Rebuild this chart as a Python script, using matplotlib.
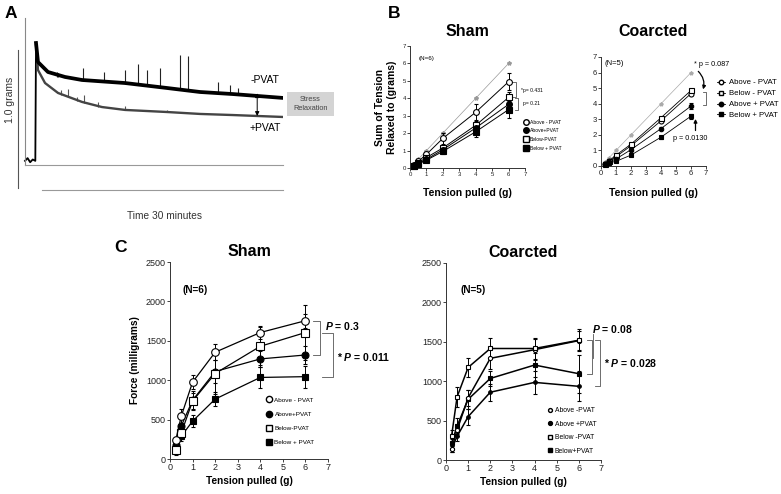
import numpy as np
import matplotlib.pyplot as plt
from matplotlib.lines import Line2D
from matplotlib.patches import Rectangle

plt.rcParams['font.family'] = ['Liberation Sans', 'DejaVu Sans']
plt.rcParams['mathtext.fontset'] = 'custom'
plt.rcParams['mathtext.it'] = 'Liberation Sans:italic:bold'
plt.rcParams['mathtext.rm'] = 'Liberation Sans:bold'

W, H = 781, 494

## Panel A - raw trace (minutes, grams)
base_t = [0.0, 0.3, 0.6, 0.9, 1.2, 1.28]
base_g = [0.03, 0.05, 0.02, 0.04, 0.03, 0.884]
minus_t = [1.28, 1.51, 2.67, 4.65, 6.63, 11.63, 16.51, 20.35, 24.19, 30.0]
minus_g = [0.884, 0.746, 0.674, 0.638, 0.616, 0.594, 0.558, 0.529, 0.514, 0.486]
plus_t = [1.28, 1.51, 2.33, 3.84, 6.63, 8.95, 11.63, 16.51, 20.35, 24.19, 30.0]
plus_g = [0.87, 0.688, 0.594, 0.522, 0.457, 0.420, 0.399, 0.384, 0.370, 0.362, 0.348]
minus_spike_t = [3.7, 3.84, 6.74, 9.2, 11.6, 13.1, 14.2, 15.7, 18.0, 19.0, 22.4, 23.8, 24.8]
minus_spike_top = [0.674, 0.67, 0.703, 0.674, 0.688, 0.73, 0.69, 0.70, 0.80, 0.79, 0.60, 0.58, 0.56]
minus_spike_base = [0.64, 0.64, 0.61, 0.60, 0.59, 0.58, 0.575, 0.565, 0.545, 0.54, 0.52, 0.515, 0.51]
plus_spike_t = [4.2, 5.0, 6.0, 6.9, 8.5, 11.6, 16.5]
plus_spike_top = [0.54, 0.55, 0.49, 0.51, 0.46, 0.43, 0.40]
plus_spike_base = [0.51, 0.49, 0.465, 0.45, 0.42, 0.40, 0.384]
SCALE_BAR_G = 1.0

## Panel B - sum of tension relaxed (grams)
x_pull = [0.25, 0.5, 1, 2, 4, 6]
b_sham_above_minus = [0.15, 0.38, 0.78, 1.7, 3.2, 4.95]
b_sham_above_minus_err = [0.05, 0.1, 0.15, 0.3, 0.45, 0.5]
b_sham_above_plus = [0.1, 0.25, 0.5, 1.05, 2.3, 3.65]
b_sham_above_plus_err = [0.03, 0.05, 0.08, 0.1, 0.2, 0.3]
b_sham_below_minus = [0.12, 0.3, 0.6, 1.15, 2.45, 4.05]
b_sham_below_minus_err = [0.03, 0.05, 0.1, 0.15, 0.25, 0.3]
b_sham_below_plus = [0.1, 0.22, 0.45, 0.95, 2.08, 3.35]
b_sham_below_plus_err = [0.03, 0.05, 0.08, 0.15, 0.3, 0.5]

b_co_above_minus = [0.12, 0.3, 0.6, 1.3, 2.9, 4.65]
b_co_below_minus = [0.15, 0.3, 0.7, 1.4, 3.1, 4.85]
b_co_above_plus = [0.12, 0.25, 0.45, 1.05, 2.4, 3.85]
b_co_above_plus_err = [0.02, 0.03, 0.05, 0.08, 0.1, 0.2]
b_co_below_plus = [0.1, 0.2, 0.3, 0.7, 1.85, 3.2]
b_co_below_plus_err = [0.02, 0.03, 0.05, 0.06, 0.1, 0.15]

## Panel C - force (milligrams)
c_sham_above_minus = [235, 545, 975, 1355, 1605, 1755]
c_sham_above_minus_err = [50, 90, 85, 100, 85, 90]
c_sham_above_plus = [175, 420, 745, 1110, 1270, 1320]
c_sham_above_plus_err = [60, 100, 120, 150, 100, 120]
c_sham_below_minus = [110, 330, 735, 1085, 1430, 1605]
c_sham_below_minus_err = [60, 80, 100, 260, 240, 350]
c_sham_below_plus = [150, 290, 480, 760, 1035, 1045]
c_sham_below_plus_err = [50, 60, 80, 90, 130, 140]

c_co_above_minus = [140, 380, 790, 1290, 1400, 1515]
c_co_above_minus_err = [40, 80, 100, 130, 130, 120]
c_co_below_minus = [300, 800, 1175, 1415, 1415, 1520]
c_co_below_minus_err = [80, 130, 120, 130, 130, 140]
c_co_below_plus = [210, 430, 770, 1035, 1205, 1095]
c_co_below_plus_err = [60, 100, 120, 100, 150, 240]
c_co_above_plus = [140, 300, 550, 860, 985, 935]
c_co_above_plus_err = [40, 60, 100, 110, 150, 190]


def px_rect(x0, y0, x1, y1):
    return [x0 / W, 1 - y1 / H, (x1 - x0) / W, (y1 - y0) / H]


def prism(ax, ymax, ystep, fs):
    ax.set_xlim(0, 7)
    ax.set_ylim(0, ymax)
    ax.spines[['top', 'right']].set_visible(False)
    for s in ['left', 'bottom']:
        ax.spines[s].set_linewidth(0.7)
        ax.spines[s].set_color('#333333')
    ax.set_xticks(range(0, 8))
    ax.set_yticks(np.arange(0, ymax + 1, ystep))
    ax.tick_params(labelsize=fs, length=2, width=0.6, pad=1, colors='#222222')


def series(ax, y, err, marker, filled, ms, lw=0.9, color='k'):
    ax.errorbar(x_pull, y, yerr=err, fmt='-', marker=marker, ms=ms,
                mfc=color if filled else 'white', mec=color, mew=0.8,
                color=color, lw=lw, elinewidth=0.7, capsize=1.5,
                clip_on=False, zorder=3)


def bracket(ax, x, y0, y1, dx, lw=0.6, color='#555555'):
    ax.plot([x - dx, x, x, x - dx], [y0, y0, y1, y1], color=color, lw=lw,
            clip_on=False)


fig = plt.figure(figsize=(W / 100, H / 100), dpi=100)

# ---------------- A
ax = fig.add_axes(px_rect(25, 18, 283, 165))
ax.set_xlim(0, 30)
ax.set_ylim(0, 147 / 138)
ax.set_xticks([])
ax.set_yticks([])
ax.spines[['top', 'right']].set_visible(False)
ax.spines['left'].set_color('#888888')
ax.spines['bottom'].set_color('#999999')
ax.spines['left'].set_linewidth(0.8)
ax.plot(base_t, base_g, color='k', lw=1.3, clip_on=False)
ax.vlines(minus_spike_t, minus_spike_base, minus_spike_top, color='#222222', lw=0.8)
ax.vlines(plus_spike_t, plus_spike_base, plus_spike_top, color='#555555', lw=0.8)
ax.plot(plus_t, plus_g, color='#444444', lw=1.7, solid_joinstyle='round')
ax.plot(minus_t, minus_g, color='k', lw=2.7, solid_joinstyle='round')
ax.plot([-0.81, -0.81], [0.83 - SCALE_BAR_G, 0.83], color='#555555', lw=0.8,
        clip_on=False)
ax.text(-1.75, 0.47, '1.0 grams', rotation=90, ha='center', va='center',
        fontsize=7.5, color='#333333')
ax.plot([1.98, 30], [-0.181, -0.181], color='#999999', lw=0.8, clip_on=False)
ax.text(16.2, -0.37, 'Time 30 minutes', ha='center', va='center', fontsize=7.3,
        color='#333333')
ax.text(27.9, 0.616, '-PVAT', ha='center', va='center', fontsize=7.5)
ax.text(27.9, 0.268, '+PVAT', ha='center', va='center', fontsize=7.5)
ax.annotate('', xy=(27.0, 0.355), xytext=(27.0, 0.52),
            arrowprops=dict(arrowstyle='<|-|>', color='k', lw=0.7,
                            mutation_scale=6, shrinkA=0, shrinkB=0))
ax.add_patch(Rectangle((30.5, 0.355), 5.4, 0.174, facecolor='#d4d4d4',
                       edgecolor='none', clip_on=False))
ax.text(33.2, 0.442, 'Stress\nRelaxation', ha='center', va='center',
        fontsize=5.3, color='#444444', linespacing=1.3)

fig.text(5 / W, 1 - 13 / H, 'A', fontsize=12.5, fontweight='bold', va='center')
fig.text(388 / W, 1 - 13 / H, 'B', fontsize=12.5, fontweight='bold', va='center')
fig.text(114 / W, 1 - 248 / H, 'C', fontsize=12.5, fontweight='bold', va='center')

# ---------------- B Sham
ax = fig.add_axes(px_rect(410, 46, 525, 168))
prism(ax, 7, 1, 4.3)
ax.plot(x_pull, x_pull, color='#999999', lw=0.5, marker='*', ms=3,
        clip_on=False, zorder=2)
series(ax, b_sham_above_minus, b_sham_above_minus_err, 'o', False, 4.2, lw=0.7)
series(ax, b_sham_below_minus, b_sham_below_minus_err, 's', False, 4.2, lw=0.7)
series(ax, b_sham_above_plus, b_sham_above_plus_err, 'o', True, 4.2, lw=0.7)
series(ax, b_sham_below_plus, b_sham_below_plus_err, 's', True, 4.2, lw=0.7)
ax.set_title('Sham', fontsize=11.5, fontweight='bold', pad=7)
ax.set_xlabel('Tension pulled (g)', fontsize=7.5, fontweight='bold', labelpad=8)
ax.set_ylabel('Sum of Tension\nRelaxed to (grams)', fontsize=7.5,
              fontweight='bold', labelpad=4)
ax.text(1.0, 6.3, '(N=6)', fontsize=4.5, ha='center', va='center')
bracket(ax, 6.45, 4.95, 4.05, 0.25)
bracket(ax, 6.55, 4.0, 3.35, 0.15)
ax.text(6.75, 4.45, '*p= 0.431', fontsize=3.6, va='center')
ax.text(6.85, 3.72, 'p= 0.21', fontsize=3.6, va='center')
hb = [Line2D([], [], ls='none', marker='o', mfc='white', mec='k', ms=4),
      Line2D([], [], ls='none', marker='o', mfc='k', mec='k', ms=4),
      Line2D([], [], ls='none', marker='s', mfc='white', mec='k', ms=4),
      Line2D([], [], ls='none', marker='s', mfc='k', mec='k', ms=4)]
ax.legend(hb, ['Above - PVAT', 'Above+PVAT', 'Below-PVAT', 'Below + PVAT'],
          loc='upper left', bbox_to_anchor=(521 / W, 1 - 117 / H),
          bbox_transform=fig.transFigure, frameon=False, fontsize=3.6,
          handlelength=0.8, handletextpad=0.4, labelspacing=0.75, borderpad=0)

# ---------------- B Coarcted
ax = fig.add_axes(px_rect(601, 57, 706, 166))
prism(ax, 7, 1, 5.5)
ax.plot(x_pull, x_pull, color='#aaaaaa', lw=0.5, marker='*', ms=2.8,
        clip_on=False, zorder=2)
series(ax, b_co_above_minus, None, 'o', False, 3.6, lw=0.6)
series(ax, b_co_below_minus, None, 's', False, 3.6, lw=0.6)
series(ax, b_co_above_plus, b_co_above_plus_err, 'o', True, 3.2, lw=0.6)
series(ax, b_co_below_plus, b_co_below_plus_err, 's', True, 3.2, lw=0.6)
ax.set_title('Coarcted', fontsize=11.5, fontweight='bold', pad=15)
ax.set_xlabel('Tension pulled (g)', fontsize=7.5, fontweight='bold', labelpad=8)
ax.text(0.9, 6.6, '(N=5)', fontsize=5.5, ha='center', va='center')
bracket(ax, 7.0, 4.75, 3.9, 0.2)
ax.text(6.2, 6.55, '* p = 0.087', fontsize=5.2, va='center')
ax.annotate('', xy=(6.75, 4.75), xytext=(6.35, 6.2),
            arrowprops=dict(arrowstyle='-|>', color='k', lw=0.9,
                            mutation_scale=5,
                            connectionstyle='arc3,rad=-0.35'))
ax.annotate('', xy=(6.3, 3.2), xytext=(6.3, 2.1),
            arrowprops=dict(arrowstyle='-|>', color='k', lw=0.9,
                            mutation_scale=5))
ax.text(4.8, 1.75, 'p = 0.0130', fontsize=5.2, va='center')
hb = [Line2D([], [], color='k', lw=0.6, marker='o', mfc='white', mec='k', ms=3.2),
      Line2D([], [], color='k', lw=0.6, marker='s', mfc='white', mec='k', ms=3.2),
      Line2D([], [], color='k', lw=0.6, marker='o', mfc='k', mec='k', ms=3.2),
      Line2D([], [], color='k', lw=0.6, marker='s', mfc='k', mec='k', ms=3.2)]
ax.legend(hb, ['Above - PVAT', 'Below - PVAT', 'Above + PVAT', 'Below + PVAT'],
          loc='upper left', bbox_to_anchor=(713 / W, 1 - 75 / H),
          bbox_transform=fig.transFigure, frameon=False, fontsize=5.6,
          handlelength=1.1, handletextpad=0.5, labelspacing=0.45, borderpad=0)

# ---------------- C Sham
ax = fig.add_axes(px_rect(170, 262, 328, 459))
prism(ax, 2500, 500, 6.5)
series(ax, c_sham_below_plus, c_sham_below_plus_err, 's', True, 5)
series(ax, c_sham_above_plus, c_sham_above_plus_err, 'o', True, 5)
series(ax, c_sham_below_minus, c_sham_below_minus_err, 's', False, 5.5)
series(ax, c_sham_above_minus, c_sham_above_minus_err, 'o', False, 5.5)
ax.set_title('Sham', fontsize=11.5, fontweight='bold', pad=4)
ax.set_xlabel('Tension pulled (g)', fontsize=7.3, fontweight='bold', labelpad=3)
ax.set_ylabel('Force (milligrams)', fontsize=7.3, fontweight='bold', labelpad=4)
ax.text(1.1, 2145, '(N=6)', fontsize=7.2, fontweight='bold', ha='center',
        va='center')
bracket(ax, 6.65, 1755, 1320, 0.3)
bracket(ax, 7.22, 1605, 1045, 0.5)
ax.text(6.85, 1690, '$P$ = 0.3', fontsize=7.5, fontweight='bold', va='center')
ax.text(7.4, 1300, '* $P$ = 0.011', fontsize=7.5, fontweight='bold',
        va='center')
hc = [Line2D([], [], ls='none', marker='o', mfc='white', mec='k', ms=4.5),
      Line2D([], [], ls='none', marker='o', mfc='k', mec='k', ms=4.5),
      Line2D([], [], ls='none', marker='s', mfc='white', mec='k', ms=4.5),
      Line2D([], [], ls='none', marker='s', mfc='k', mec='k', ms=4.5)]
ax.legend(hc, ['Above - PVAT', 'Above+PVAT', 'Below-PVAT', 'Below + PVAT'],
          loc='upper left', bbox_to_anchor=(263 / W, 1 - 394 / H),
          bbox_transform=fig.transFigure, frameon=False, fontsize=4.6,
          handlelength=0.8, handletextpad=0.5, labelspacing=1.35, borderpad=0)

# ---------------- C Coarcted
ax = fig.add_axes(px_rect(446, 263, 601, 460))
prism(ax, 2500, 500, 6.5)
series(ax, c_co_above_plus, c_co_above_plus_err, 'o', True, 2.6, lw=1.1)
series(ax, c_co_below_plus, c_co_below_plus_err, 's', True, 2.6, lw=1.1)
series(ax, c_co_above_minus, c_co_above_minus_err, 'o', False, 3, lw=1.1)
series(ax, c_co_below_minus, c_co_below_minus_err, 's', False, 3, lw=1.1)
ax.set_title('Coarcted', fontsize=11.5, fontweight='bold', pad=4)
ax.set_xlabel('Tension pulled (g)', fontsize=7.3, fontweight='bold', labelpad=3)
ax.text(1.24, 2157, '(N=5)', fontsize=7.2, fontweight='bold', ha='center',
        va='center')
bracket(ax, 6.58, 1520, 1095, 0.23)
ax.plot([6.62, 6.62], [1300, 1600], color='#555555', lw=0.6, clip_on=False)
bracket(ax, 6.95, 1525, 935, 0.22)
ax.text(6.58, 1665, '$P$ = 0.08', fontsize=7.5, fontweight='bold', va='center')
ax.text(7.12, 1235, '* $P$ = 0.028', fontsize=7.5, fontweight='bold',
        va='center')
hc = [Line2D([], [], ls='none', marker='o', mfc='white', mec='k', ms=2.8),
      Line2D([], [], ls='none', marker='o', mfc='k', mec='k', ms=2.8),
      Line2D([], [], ls='none', marker='s', mfc='white', mec='k', ms=2.8),
      Line2D([], [], ls='none', marker='s', mfc='k', mec='k', ms=2.8)]
ax.legend(hc, ['Above -PVAT', 'Above +PVAT', 'Below -PVAT', 'Below+PVAT'],
          loc='upper left', bbox_to_anchor=(545 / W, 1 - 404 / H),
          bbox_transform=fig.transFigure, frameon=False, fontsize=4.9,
          handlelength=0.5, handletextpad=0.4, labelspacing=0.95, borderpad=0)

fig.savefig('out.png', dpi=100)
